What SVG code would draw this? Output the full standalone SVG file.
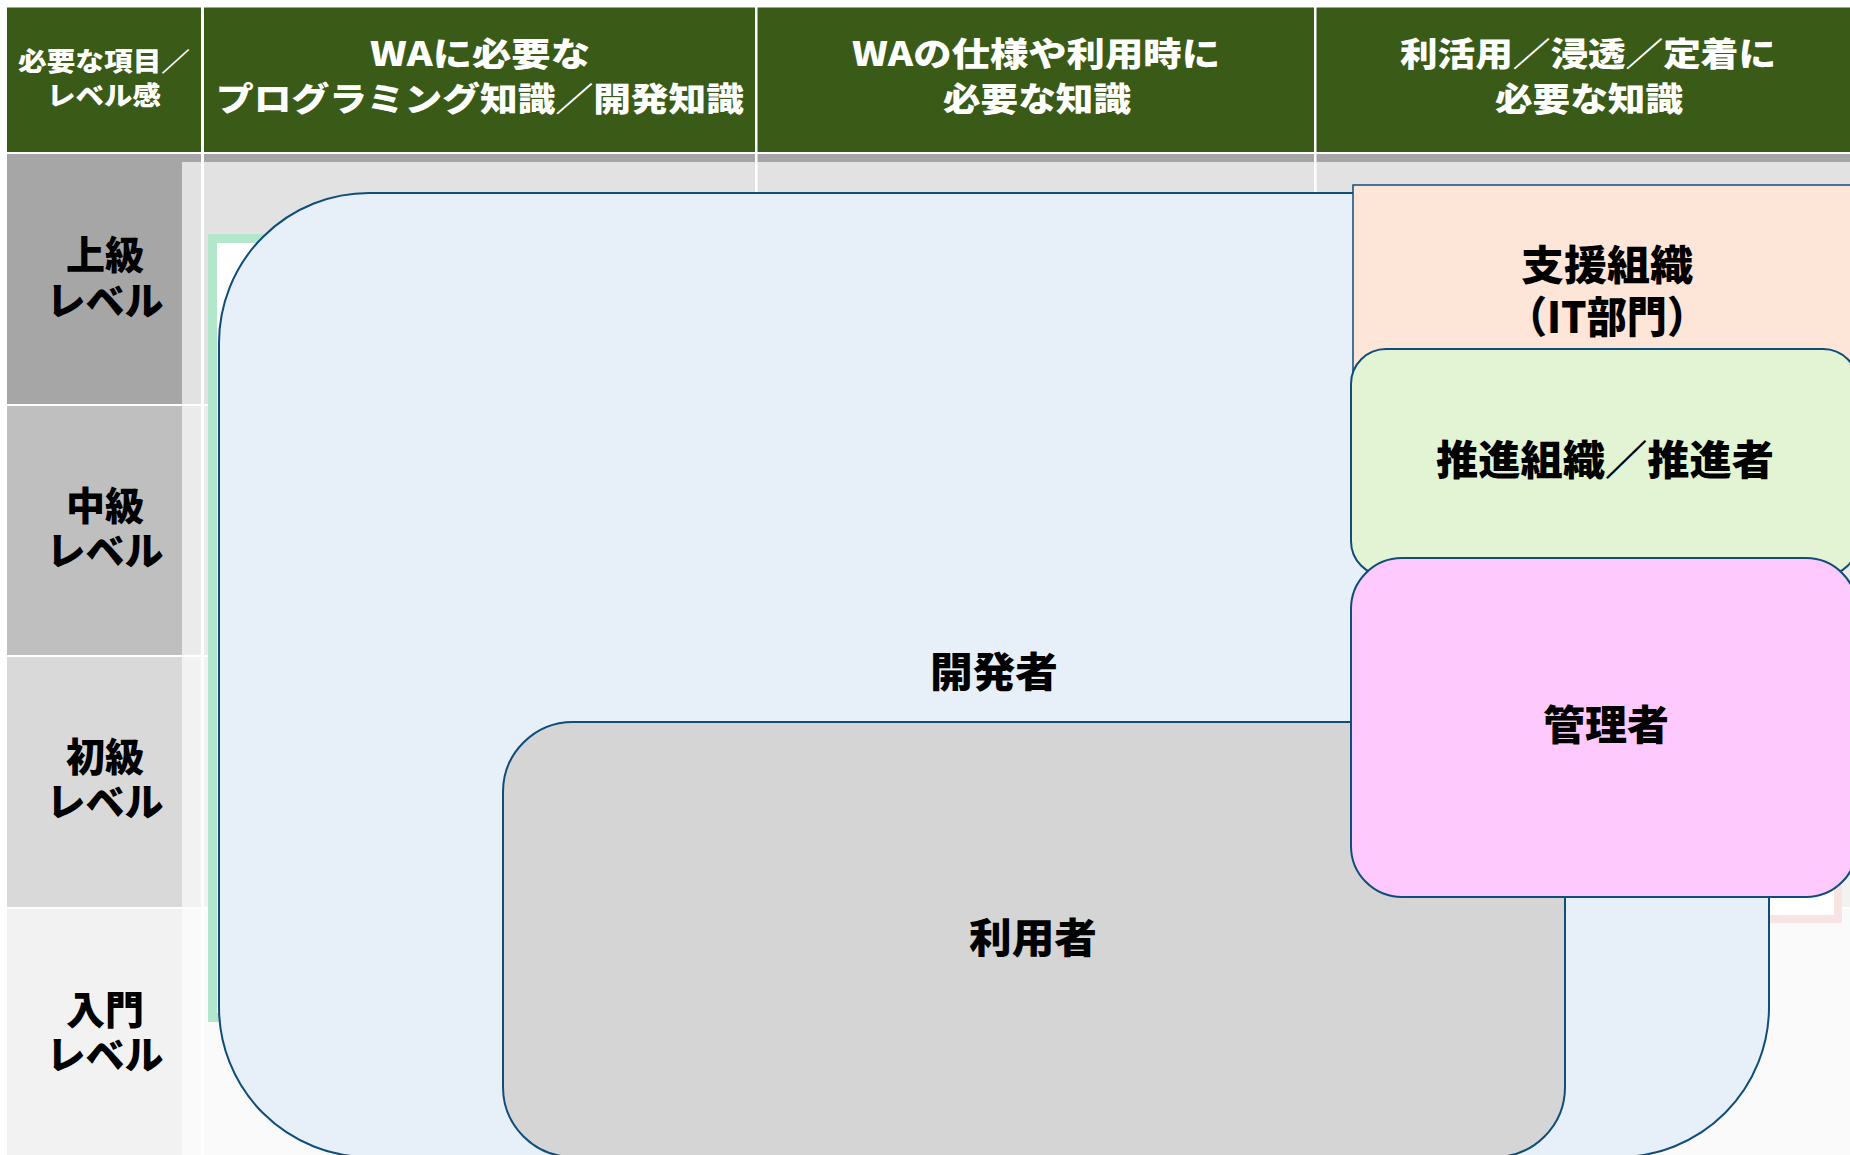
<svg xmlns="http://www.w3.org/2000/svg" width="1850" height="1155" viewBox="0 0 1850 1155">
<defs>
<style>
.hdr{fill:#ffffff;font-family:"Noto Sans CJK JP","Noto Sans",sans-serif;font-weight:900;text-anchor:middle;dominant-baseline:central}
.lvl{fill:#000000;font-family:"Noto Sans CJK JP","Noto Sans",sans-serif;font-weight:900;font-size:39px;text-anchor:middle;dominant-baseline:central}
.lbl{fill:#000000;font-family:"Noto Sans CJK JP","Noto Sans",sans-serif;font-weight:900;font-size:41px;text-anchor:middle;dominant-baseline:central}
.box{stroke:#0f4d7a;stroke-width:2}
.wl{fill:#ffffff}
</style>
</defs>
<rect x="0" y="0" width="1850" height="1155" fill="#ffffff"/>
<g id="table">
  <rect x="7" y="7" width="1850" height="145" fill="#3a5a17"/>
  <rect x="7" y="7" width="1850" height="1" fill="#9aab8a"/>
  <rect x="7" y="154" width="1850" height="250" fill="#e2e2e2"/>
  <rect x="7" y="406" width="1850" height="249" fill="#ebebeb"/>
  <rect x="7" y="657" width="1850" height="250" fill="#f2f2f2"/>
  <rect x="7" y="909" width="1850" height="246" fill="#fafafa"/>
  <rect x="7" y="154" width="1850" height="8" fill="#a6a6a6"/>
  <rect x="7" y="154" width="175" height="250" fill="#a6a6a6"/>
  <rect x="7" y="406" width="175" height="249" fill="#bfbfbf"/>
  <rect x="7" y="657" width="175" height="250" fill="#d9d9d9"/>
  <rect x="7" y="909" width="175" height="246" fill="#f2f2f2"/>
  <rect class="wl" x="201" y="7" width="3" height="1148"/>
  <rect class="wl" x="755" y="7" width="2.5" height="1148"/>
  <rect class="wl" x="1314" y="7" width="2.5" height="1148"/>
  <rect class="wl" x="7" y="404" width="1850" height="2"/>
  <rect class="wl" x="7" y="655" width="1850" height="2"/>
  <rect class="wl" x="7" y="907" width="1850" height="2"/>
  <text class="hdr" font-size="26"><tspan x="104" y="59" textLength="172" lengthAdjust="spacingAndGlyphs">必要な項目／</tspan><tspan x="104" y="93" textLength="114" lengthAdjust="spacingAndGlyphs">レベル感</tspan></text>
  <text class="hdr" font-size="33"><tspan x="480" y="52" textLength="220" lengthAdjust="spacingAndGlyphs">WAに必要な</tspan><tspan x="480" y="97" textLength="528" lengthAdjust="spacingAndGlyphs">プログラミング知識／開発知識</tspan></text>
  <text class="hdr" font-size="33"><tspan x="1036" y="52" textLength="368" lengthAdjust="spacingAndGlyphs">WAの仕様や利用時に</tspan><tspan x="1037" y="97" textLength="188" lengthAdjust="spacingAndGlyphs">必要な知識</tspan></text>
  <text class="hdr" font-size="33"><tspan x="1588" y="52" textLength="376" lengthAdjust="spacingAndGlyphs">利活用／浸透／定着に</tspan><tspan x="1589" y="97" textLength="188" lengthAdjust="spacingAndGlyphs">必要な知識</tspan></text>
  <text class="lvl"><tspan x="105" y="252">上級</tspan><tspan x="105" y="298">レベル</tspan></text>
  <text class="lvl"><tspan x="105" y="503">中級</tspan><tspan x="105" y="548">レベル</tspan></text>
  <text class="lvl"><tspan x="105" y="754">初級</tspan><tspan x="105" y="799">レベル</tspan></text>
  <text class="lvl"><tspan x="105" y="1007">入門</tspan><tspan x="105" y="1052">レベル</tspan></text>
</g>
<g id="frame-mint">
  <rect x="212.5" y="238.5" width="1090" height="779" fill="#ffffff" stroke="#b3e7cb" stroke-width="9"/>
</g>
<g id="frame-pink">
  <rect x="1504" y="604" width="334" height="315" fill="#ffffff" stroke="#f9e4e4" stroke-width="8"/>
</g>
<g id="node-developer">
  <rect class="box" x="219" y="193" width="1550" height="964" rx="150" ry="150" fill="#e7eff9"/>
  <text class="lbl" x="994" y="669" textLength="128" lengthAdjust="spacingAndGlyphs">開発者</text>
</g>
<g id="node-user">
  <rect class="box" x="503" y="722" width="1062" height="435" rx="70" ry="70" fill="#d5d5d5"/>
  <text class="lbl" x="1033" y="935" textLength="128" lengthAdjust="spacingAndGlyphs">利用者</text>
</g>
<g id="node-support">
  <rect x="1353" y="185" width="510" height="250" fill="#fde5d7" stroke="#0f4d7a" stroke-width="1.5"/>
  <text class="lbl"><tspan x="1607" y="262" textLength="172" lengthAdjust="spacingAndGlyphs">支援組織</tspan><tspan x="1607" y="314" font-size="43" textLength="200" lengthAdjust="spacingAndGlyphs">（IT部門）</tspan></text>
</g>
<g id="node-promotion">
  <rect class="box" x="1351" y="349" width="507" height="227" rx="35" ry="35" fill="#e2f4d4"/>
  <text class="lbl" x="1605" y="457" textLength="338" lengthAdjust="spacingAndGlyphs">推進組織／推進者</text>
</g>
<g id="node-admin">
  <rect class="box" x="1351" y="558" width="506" height="339" rx="51" ry="51" fill="#fecafe"/>
  <text class="lbl" x="1606" y="722" textLength="126" lengthAdjust="spacingAndGlyphs">管理者</text>
</g>
<g id="connectors"/>
</svg>
